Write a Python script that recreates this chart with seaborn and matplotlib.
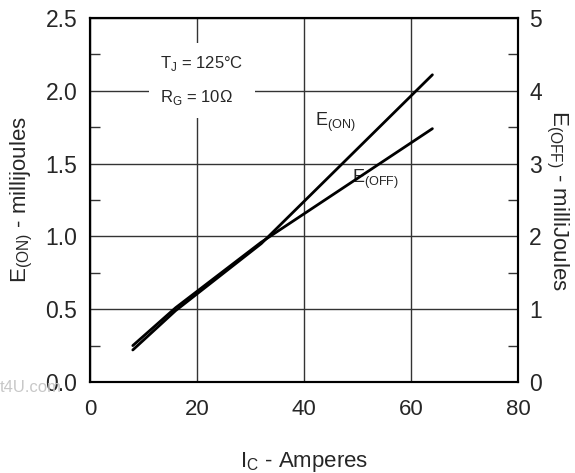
import pandas as pd
import matplotlib.pyplot as plt
import seaborn as sns
from matplotlib.ticker import MultipleLocator

# Switching energy vs collector current
ic_on = [8, 16, 32, 64]
e_on = [0.22, 0.49, 0.95, 2.11]        # millijoules, left axis

ic_off = [8, 16, 32, 64]
e_off = [0.50, 1.02, 1.92, 3.48]       # millijoules, right axis

sns.set_style('white')
plt.rcParams['font.family'] = ['Liberation Sans', 'DejaVu Sans']
plt.rcParams['mathtext.fontset'] = 'custom'
plt.rcParams['mathtext.rm'] = 'Liberation Sans'

df_on = pd.DataFrame({'ic': ic_on, 'e': e_on})
df_off = pd.DataFrame({'ic': ic_off, 'e': e_off})

fig = plt.figure(figsize=(5.75, 4.73), dpi=100)
ax = fig.add_axes([90 / 575, 1 - 382 / 473, 428 / 575, 364 / 473])
ax2 = ax.twinx()

sns.lineplot(data=df_on, x='ic', y='e', ax=ax, color='black', linewidth=2)
sns.lineplot(data=df_off, x='ic', y='e', ax=ax2, color='black', linewidth=2)

ax.set_xlim(0, 80)
ax.set_ylim(0, 2.5)
ax2.set_ylim(0, 5)

ax.xaxis.set_major_locator(MultipleLocator(20))
ax.xaxis.set_minor_locator(MultipleLocator(10))
ax.yaxis.set_major_locator(MultipleLocator(0.5))
ax.yaxis.set_minor_locator(MultipleLocator(0.25))
ax.yaxis.set_major_formatter(plt.FormatStrFormatter('%.1f'))
ax2.yaxis.set_major_locator(MultipleLocator(1))
ax2.yaxis.set_minor_locator(MultipleLocator(0.5))

ax.grid(True, which='major', color='#333333', linewidth=1)
for a in (ax, ax2):
    a.tick_params(which='both', direction='in', labelsize=16.5, color='#333333')
    a.tick_params(which='major', length=0, pad=9)
    a.tick_params(which='minor', length=7, width=1)
    for s in a.spines.values():
        s.set_color('black')
        s.set_linewidth(1.5)
ax.tick_params(axis='x', which='major', length=0, pad=12, labelsize=16)
ax2.tick_params(axis='y', which='both', left=False, right=True)
ax2.tick_params(axis='y', which='major', pad=8)

ax.set_xlabel('I$_\\mathregular{C}$ - Amperes', fontsize=16, labelpad=22)
ax.set_ylabel('E$_\\mathregular{(ON)}$ - millijoules', fontsize=16, labelpad=8)
ax2.set_ylabel('E$_\\mathregular{(OFF)}$ - milliJoules', fontsize=16, rotation=270, labelpad=20)

ax.text(13.1, 2.07, 'T$_\\mathregular{J}$ = 125°C\nR$_\\mathregular{G}$ = 10\u03A9', fontsize=12,
        ha='left', va='center', linespacing=2.1,
        bbox=dict(facecolor='white', edgecolor='none', pad=8))

ax.text(45.8, 1.78, 'E$_\\mathregular{(ON)}$', fontsize=13, ha='center', va='center')
ax.text(53.3, 1.39, 'E$_\\mathregular{(OFF)}$', fontsize=13, ha='center', va='center')

fig.text(0, 1 - 388 / 473, 't4U.com', fontsize=12, color='#c8c8c8',
         ha='left', va='center', zorder=0)

ax2.set_zorder(ax.get_zorder() + 1)
ax2.patch.set_visible(False)

fig.savefig('out.png', dpi=100)
